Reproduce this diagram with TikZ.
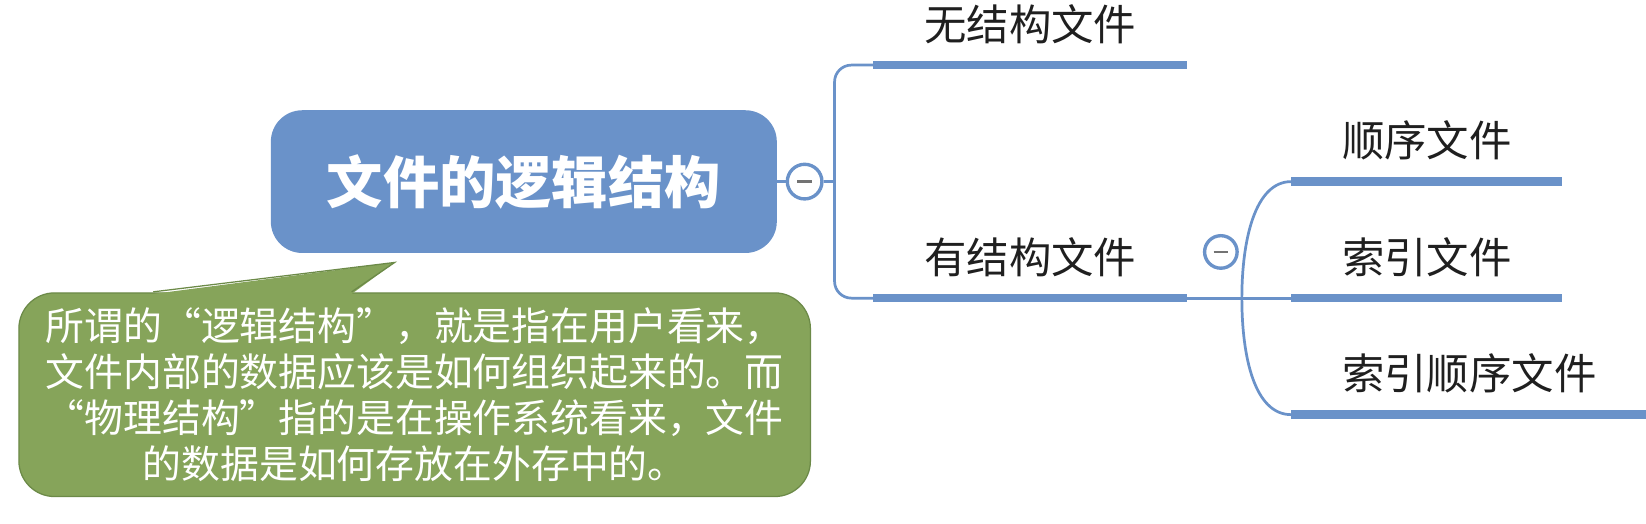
\documentclass[tikz,border=0pt]{standalone}
\usepackage{fontspec}
\newfontfamily\cjk{Noto Sans CJK SC}
\usetikzlibrary{positioning}
\definecolor{mapblue}{RGB}{106,146,201}
\definecolor{notegreen}{RGB}{134,164,90}
\definecolor{noteedge}{RGB}{108,138,72}

\begin{document}
\begin{tikzpicture}[x=0.5pt, y=-0.5pt,
        root/.style={rectangle, rounded corners=15pt, fill=mapblue, text=white, minimum width=241pt, minimum height=68pt, font=\cjk\bfseries\fontsize{26.8}{30}\selectfont},
        topic/.style={anchor=south west, inner xsep=24pt, inner ysep=10pt, text=black!88, font=\cjk\fontsize{20.2}{24}\selectfont},
        bar/.style={mapblue, line width=4pt},
        link/.style={mapblue, line width=1.3pt},
        fold/.style={circle, draw=mapblue, fill=white, line width=1.6pt, minimum size=16.5pt, inner sep=0pt,
            path picture={\draw[black!55, line width=1.2pt] ([xshift=-3.5pt]path picture bounding box.center) -- ([xshift=3.5pt]path picture bounding box.center);}},
        note/.style={rectangle, rounded corners=17pt, fill=notegreen, draw=noteedge, line width=0.6pt, text=white, align=center, minimum width=377pt, minimum height=97pt, font=\cjk\fontsize{18.5}{22}\selectfont}
    ]
        \useasboundingbox (0,0) rectangle (1568,499);

        % Root and its fold button
        \node[root] (root) at (499,173) {文件的逻辑结构};
        \node[fold, right=4pt of root] (fold) {};
        \coordinate (trunk) at (795,173);

        % First level
        \node[topic] (wujg) at (832,62) {无结构文件};
        \node[topic] (yjg) at (832,284) {有结构文件};

        % Second level
        \node[fold, minimum size=15.5pt] (fold2) at (1163,240) {};
        \node[topic] (sx) at (1230,173) {顺序文件};
        \node[topic] (sy) at (1230,284) {索引文件};
        \node[topic] (sysx) at (1230,395) {索引顺序文件};

        % Links
        \draw[link] (root.east) -- (fold.west);
        \draw[link] (fold.east) -- (trunk);
        \draw[link, rounded corners=8pt] (wujg.south west) -- ++(-37,0) |- (yjg.south west);
        \draw[link] (yjg.south east) -- (sy.south west);
        \draw[link] (sx.south west) .. controls (1195,173) and (1183,230) .. (1183,284)
            .. controls (1183,340) and (1195,395) .. (sysx.south west);

        % Underline bars
        \foreach \n in {wujg,yjg,sx,sy,sysx}
            \draw[bar] (\n.south west) -- (\n.south east);

        % Note callout
        \node[note] (note) at (395,376) {所谓的“逻辑结构”，就是指在用户看来，\\文件内部的数据应该是如何组织起来的。而\\“物理结构”指的是在操作系统看来，文件\\的数据是如何存放在外存中的。};
        \coordinate (tip) at (376,250);
        \fill[notegreen] (146,280) -- (tip) -- (335,280) -- cycle;
        \draw[noteedge, line width=0.6pt] (146,278) -- (tip) -- (335,278);
    \end{tikzpicture}
\end{document}
